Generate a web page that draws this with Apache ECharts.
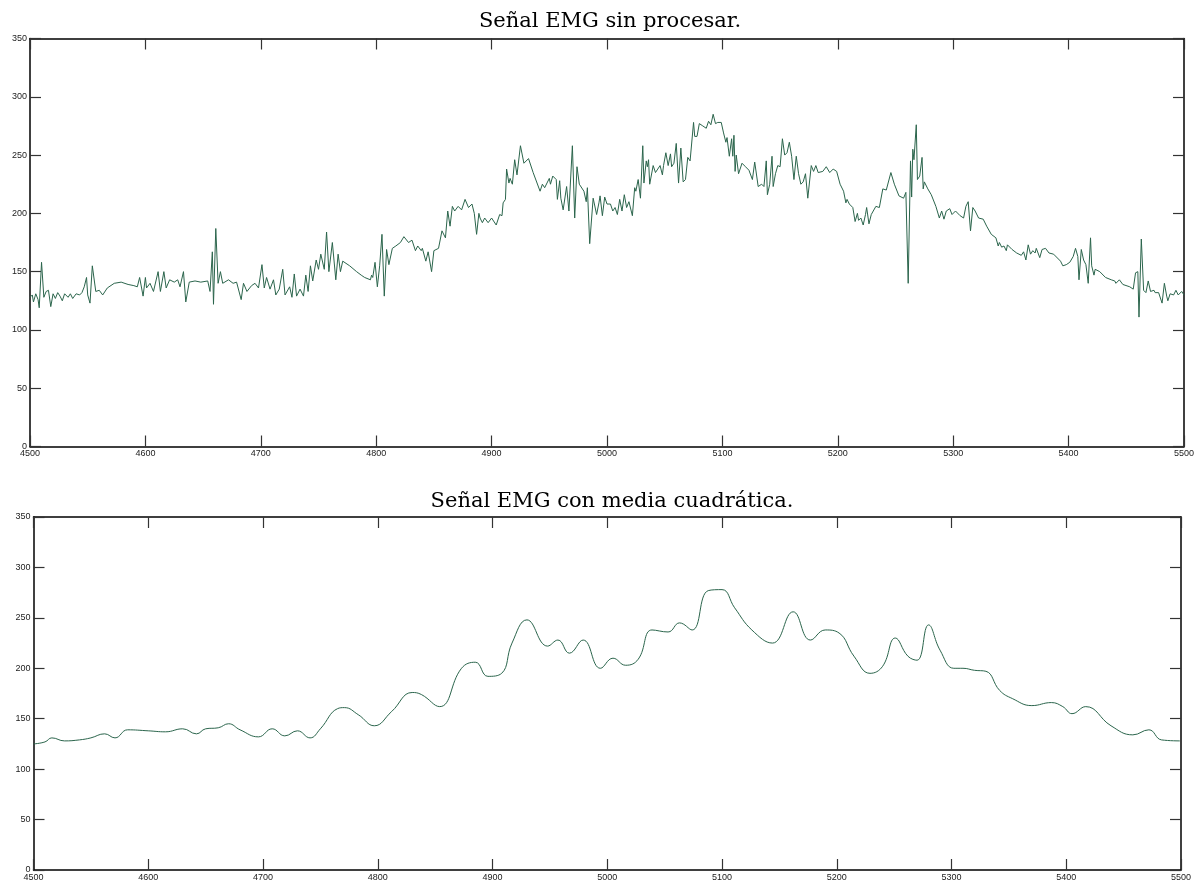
<!DOCTYPE html>
<html>
<head>
<meta charset="utf-8">
<script src="https://cdn.jsdelivr.net/npm/echarts@6/dist/echarts.min.js"></script>
<style>
  html, body { margin: 0; padding: 0; background: #fff; }
  #emgChart { width: 1200px; height: 884px; }
</style>
</head>
<body>
<div id="emgChart"></div>
<script>
// raw EMG samples (x = sample index)
const rawX = [
  4500, 4502, 4503, 4505, 4507, 4508, 4510, 4512, 4514, 4516,
  4518, 4520, 4522, 4524, 4526, 4528, 4530, 4533, 4535, 4537,
  4540, 4543, 4545, 4547, 4549, 4550, 4552, 4554, 4557, 4560,
  4563, 4567, 4573, 4579, 4585, 4590, 4593, 4595, 4598, 4600,
  4601, 4604, 4607, 4611, 4613, 4616, 4618, 4621, 4625, 4628,
  4630, 4633, 4635, 4638, 4643, 4648, 4654, 4656, 4658, 4659,
  4661, 4663, 4665, 4667, 4672, 4676, 4679, 4683, 4685, 4688,
  4692, 4695, 4698, 4701, 4703, 4705, 4708, 4711, 4713, 4716,
  4719, 4721, 4725, 4727, 4729, 4731, 4734, 4737, 4739, 4741,
  4743, 4745, 4748, 4750, 4752, 4755, 4757, 4759, 4762, 4765,
  4767, 4769, 4771, 4777, 4783, 4787, 4788, 4790, 4795, 4796,
  4797, 4799, 4801, 4803, 4805, 4807, 4809, 4811, 4814, 4817,
  4821, 4824, 4828, 4831, 4834, 4836, 4839, 4840, 4843, 4845,
  4848, 4850, 4854, 4857, 4860, 4862, 4864, 4866, 4868, 4871,
  4874, 4877, 4880, 4883, 4885, 4887, 4889, 4890, 4892, 4894,
  4897, 4900, 4904, 4907, 4909, 4910, 4912, 4913, 4915, 4916,
  4918, 4920, 4922, 4925, 4928, 4932, 4936, 4942, 4944, 4946,
  4950, 4951, 4953, 4956, 4957, 4959, 4960, 4962, 4965, 4967,
  4970, 4972, 4974, 4976, 4980, 4982, 4983, 4985, 4988, 4991,
  4993, 4994, 4996, 4998, 5000, 5003, 5005, 5007, 5009, 5011,
  5013, 5015, 5017, 5019, 5022, 5024, 5025, 5027, 5029, 5031,
  5032, 5034, 5035, 5036, 5037, 5040, 5042, 5044, 5046, 5048,
  5049, 5051, 5053, 5055, 5056, 5058, 5060, 5062, 5064, 5066,
  5068, 5070, 5072, 5075, 5076, 5078, 5080, 5083, 5086, 5088,
  5090, 5092, 5094, 5096, 5099, 5101, 5103, 5104, 5106, 5108,
  5109, 5110, 5111, 5112, 5114, 5117, 5120, 5123, 5124, 5126,
  5128, 5131, 5134, 5136, 5138, 5139, 5141, 5143, 5144, 5146,
  5148, 5150, 5152, 5154, 5156, 5158, 5160, 5162, 5164, 5166,
  5168, 5170, 5172, 5174, 5177, 5179, 5181, 5183, 5187, 5190,
  5193, 5196, 5199, 5202, 5205, 5207, 5208, 5210, 5213, 5215,
  5217, 5218, 5220, 5222, 5224, 5225, 5227, 5229, 5233, 5236,
  5239, 5242, 5246, 5249, 5253, 5257, 5259, 5261, 5263, 5264,
  5265, 5266, 5268, 5269, 5271, 5273, 5274, 5275, 5278, 5281,
  5285, 5288, 5290, 5292, 5294, 5297, 5299, 5302, 5306, 5309,
  5311, 5313, 5315, 5317, 5319, 5322, 5326, 5329, 5333, 5337,
  5339, 5340, 5342, 5344, 5346, 5347, 5351, 5355, 5359, 5361,
  5363, 5365, 5367, 5369, 5371, 5372, 5375, 5377, 5380, 5383,
  5387, 5393, 5395, 5398, 5401, 5404, 5406, 5408, 5409, 5411,
  5413, 5415, 5417, 5419, 5420, 5422, 5423, 5427, 5432, 5437,
  5440, 5441, 5444, 5447, 5453, 5456, 5458, 5460, 5461, 5463,
  5465, 5467, 5469, 5471, 5474, 5475, 5478, 5481, 5483, 5485,
  5486, 5488, 5491, 5493, 5495, 5498, 5500
];
const rawY = [
  128, 130, 124, 131, 126, 119, 158, 128, 133, 134,
  120, 131, 127, 132, 129, 125, 131, 128, 131, 127,
  131, 130, 132, 137, 145, 130, 123, 155, 133, 134,
  130, 136, 140, 141, 139, 138, 137, 145, 129, 145,
  136, 140, 133, 150, 133, 150, 136, 143, 141, 143,
  137, 150, 124, 141, 142, 141, 142, 133, 167, 122,
  187, 140, 150, 140, 143, 140, 141, 126, 140, 133,
  138, 140, 136, 156, 136, 145, 135, 143, 130, 135,
  152, 130, 137, 128, 148, 129, 135, 129, 147, 133,
  155, 142, 160, 152, 165, 152, 184, 150, 175, 143,
  165, 150, 159, 155, 150, 147, 148, 145, 143, 147,
  145, 158, 137, 155, 182, 129, 169, 156, 170, 172,
  175, 180, 175, 177, 168, 172, 168, 170, 159, 167,
  150, 168, 170, 185, 179, 202, 189, 206, 202, 206,
  203, 212, 205, 208, 200, 182, 200, 196, 192, 196,
  192, 196, 190, 199, 198, 209, 212, 238, 226, 230,
  225, 246, 233, 258, 243, 247, 235, 219, 225, 222,
  230, 225, 232, 229, 212, 228, 213, 203, 223, 202,
  258, 196, 240, 225, 219, 210, 222, 174, 213, 199,
  209, 215, 198, 214, 208, 208, 202, 205, 199, 212,
  202, 216, 205, 210, 198, 222, 219, 229, 213, 258,
  226, 245, 240, 246, 225, 241, 235, 238, 241, 233,
  241, 252, 241, 251, 240, 243, 260, 226, 256, 227,
  229, 248, 245, 278, 266, 266, 277, 275, 273, 279,
  276, 285, 277, 278, 278, 269, 261, 265, 249, 264,
  249, 267, 236, 250, 234, 243, 240, 237, 238, 229,
  244, 223, 225, 223, 245, 216, 225, 249, 223, 234,
  241, 240, 264, 250, 252, 261, 249, 229, 249, 234,
  225, 227, 234, 213, 241, 236, 241, 235, 236, 240,
  235, 238, 236, 225, 219, 209, 212, 208, 205, 193,
  200, 194, 196, 190, 199, 205, 191, 199, 206, 205,
  221, 220, 235, 225, 215, 213, 218, 140, 245, 214,
  255, 246, 276, 229, 232, 248, 221, 227, 221, 216,
  206, 196, 202, 195, 202, 204, 199, 202, 198, 196,
  206, 210, 185, 205, 202, 196, 195, 189, 182, 179,
  172, 175, 171, 172, 168, 173, 169, 166, 164, 167,
  160, 173, 165, 168, 166, 170, 162, 169, 170, 166,
  165, 159, 155, 156, 158, 163, 170, 163, 143, 169,
  160, 156, 140, 179, 155, 147, 152, 150, 145, 143,
  142, 140, 143, 139, 137, 135, 149, 150, 111, 178,
  134, 132, 142, 133, 134, 132, 132, 123, 140, 129,
  125, 131, 130, 134, 130, 133, 130
];

// RMS-smoothed EMG
const rmsX = [
  4500, 4510, 4516, 4527, 4540, 4550, 4562, 4571, 4582, 4600,
  4615, 4630, 4642, 4650, 4661, 4670, 4680, 4696, 4708, 4719,
  4730, 4741, 4750, 4765, 4771, 4783, 4797, 4812, 4830, 4838,
  4854, 4873, 4885, 4896, 4908, 4917, 4930, 4948, 4957, 4967,
  4979, 4994, 5005, 5016, 5027, 5039, 5053, 5063, 5074, 5088,
  5100, 5111, 5126, 5144, 5162, 5177, 5190, 5202, 5215, 5229,
  5240, 5251, 5262, 5270, 5280, 5290, 5302, 5310, 5320, 5330,
  5342, 5353, 5370, 5387, 5397, 5405, 5417, 5439, 5458, 5472,
  5483, 5499
];
const rmsY = [
  125, 127, 131, 128, 129, 131, 135, 131, 139, 138,
  137, 140, 135, 140, 141, 145, 139, 132, 140, 133,
  138, 131, 140, 160, 161, 154, 143, 157, 176, 174,
  162, 200, 206, 192, 195, 225, 248, 222, 228, 215,
  228, 200, 210, 203, 209, 238, 236, 245, 238, 277,
  278, 260, 238, 225, 256, 228, 238, 235, 212, 195,
  202, 230, 212, 208, 243, 218, 200, 200, 198, 197,
  178, 170, 163, 166, 162, 155, 162, 143, 134, 139,
  129, 128
];

const titles = ['Señal EMG sin procesar.', 'Señal EMG con media cuadrática.'];
const xTicks = { min: 4500, max: 5500, interval: 100 };
const yTicks = { min: 0, max: 350, interval: 50 };

const lineColor = '#2b654c';

function buildEmgChart() {
  const chart = echarts.init(document.getElementById('emgChart'));

  const grids = [
    { left: 30, top: 38.5, width: 1154, height: 408 },
    { left: 33.5, top: 517, width: 1147.5, height: 353 },
  ];

  const axisLine = { show: true, onZero: false, lineStyle: { color: '#000', width: 1.5 } };
  const axisTick = { show: true, inside: true, length: 11, lineStyle: { color: '#333', width: 1.2 } };
  const label = {
    color: '#222',
    fontSize: 9,
    fontFamily: 'Liberation Sans, Arial, sans-serif',
    formatter: function (v) { return String(v); },
  };

  const xAxis = [];
  const yAxis = [];
  grids.forEach(function (g, i) {
    xAxis.push({
      type: 'value', gridIndex: i, position: 'bottom', ...xTicks,
      axisLine: axisLine, axisTick: axisTick, splitLine: { show: false },
      axisLabel: { ...label, margin: 3 },
    });
    xAxis.push({
      type: 'value', gridIndex: i, position: 'top', ...xTicks,
      axisLine: axisLine, axisTick: axisTick, splitLine: { show: false },
      axisLabel: { show: false },
    });
    yAxis.push({
      type: 'value', gridIndex: i, position: 'left', ...yTicks,
      axisLine: axisLine, axisTick: axisTick, splitLine: { show: false },
      axisLabel: { ...label, margin: 3 },
    });
    yAxis.push({
      type: 'value', gridIndex: i, position: 'right', ...yTicks,
      axisLine: axisLine, axisTick: axisTick, splitLine: { show: false },
      axisLabel: { show: false },
    });
  });

  const rawData = rawX.map(function (x, i) { return [x, rawY[i]]; });
  const rmsData = rmsX.map(function (x, i) { return [x, rmsY[i]]; });

  const titleStyle = { color: '#000', fontSize: 21, fontWeight: 'normal', fontFamily: 'DejaVu Serif, serif' };

  const options = {
    animation: false,
    backgroundColor: '#fff',
    title: [
      { text: titles[0], left: 605, top: 6, textAlign: 'center', textStyle: titleStyle },
      { text: titles[1], left: 607, top: 486, textAlign: 'center', textStyle: titleStyle },
    ],
    grid: grids,
    xAxis: xAxis,
    yAxis: yAxis,
    series: [
      {
        name: 'raw',
        type: 'line',
        xAxisIndex: 0,
        yAxisIndex: 0,
        data: rawData,
        showSymbol: false,
        lineStyle: { color: lineColor, width: 1 },
      },
      {
        name: 'rms',
        type: 'line',
        xAxisIndex: 2,
        yAxisIndex: 2,
        data: rmsData,
        smooth: 0.45,
        showSymbol: false,
        lineStyle: { color: lineColor, width: 1 },
      },
    ],
  };

  chart.setOption(options);
  return chart;
}

buildEmgChart();
</script>
</body>
</html>
